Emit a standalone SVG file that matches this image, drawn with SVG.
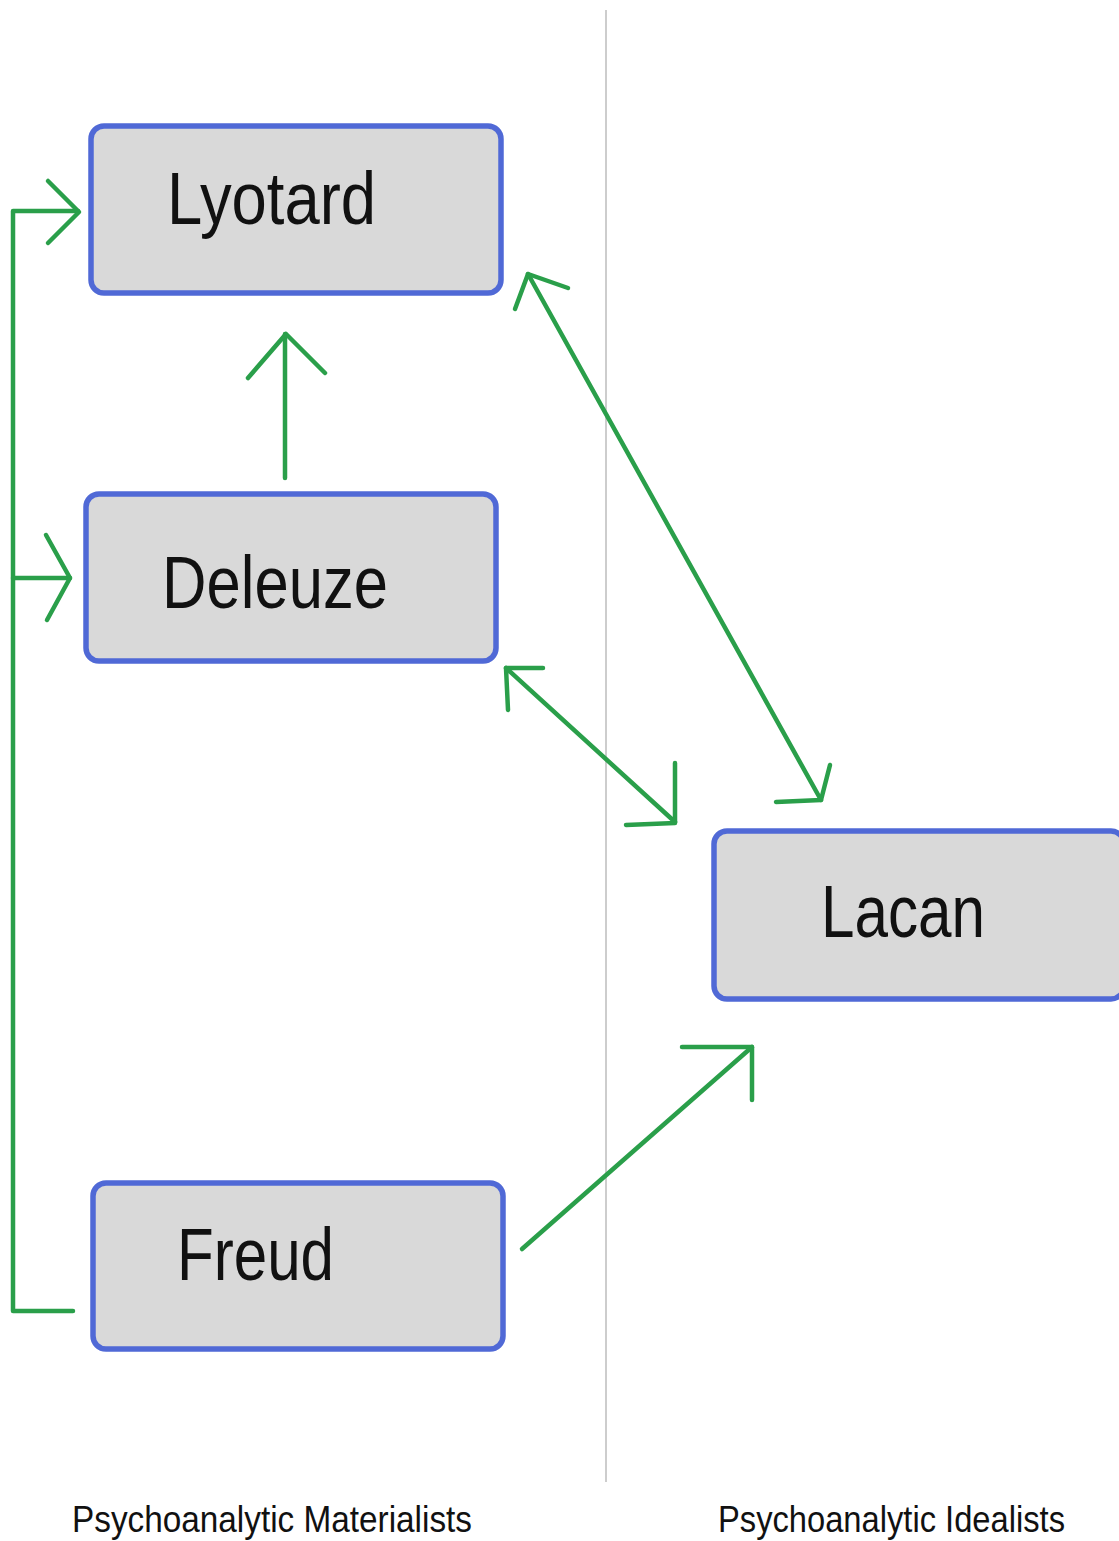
<svg xmlns="http://www.w3.org/2000/svg" width="1119" height="1541" viewBox="0 0 1119 1541">
<style>
.box{fill:#d9d9d9;stroke:#5069d6;stroke-width:5.5}
.lbl{font-family:"Liberation Sans",Arial,sans-serif;font-size:74px;fill:#111}
.cap{font-family:"Liberation Sans",Arial,sans-serif;font-size:36px;fill:#111}
.c{fill:none;stroke:#2a9f4a;stroke-width:4.5;stroke-linecap:round;stroke-linejoin:round}
</style>
<rect width="1119" height="1541" fill="#ffffff"/>
<line x1="606" y1="10" x2="606" y2="1482" stroke="#bdbdbd" stroke-width="1.5"/>
<g id="lyotard">
<rect class="box" x="91" y="126" width="410" height="167" rx="13"/>
<text class="lbl" x="167" y="224" textLength="209" lengthAdjust="spacingAndGlyphs">Lyotard</text>
</g>
<g id="deleuze">
<rect class="box" x="86" y="494" width="410" height="167" rx="13"/>
<text class="lbl" x="162" y="608" textLength="226" lengthAdjust="spacingAndGlyphs">Deleuze</text>
</g>
<g id="lacan">
<rect class="box" x="714" y="831" width="410" height="168" rx="13"/>
<text class="lbl" x="821" y="937" textLength="164" lengthAdjust="spacingAndGlyphs">Lacan</text>
</g>
<g id="freud">
<rect class="box" x="93" y="1183" width="410" height="166" rx="13"/>
<text class="lbl" x="177" y="1280" textLength="157" lengthAdjust="spacingAndGlyphs">Freud</text>
</g>
<g id="connectors">
<path class="c" d="M73,1311 H13 V211 H78"/>
<path class="c" d="M48,181 L79,212 L48,243"/>
<path class="c" d="M13,578 H70"/>
<path class="c" d="M46,535 L70,578 L47,620"/>
<path class="c" d="M285,478 V334"/>
<path class="c" d="M248,378 L286,334 L325,373"/>
<path class="c" d="M528,274 L821,800"/>
<path class="c" d="M515,309 L528,274 L568,288"/>
<path class="c" d="M830,765 L821,800 L776,802"/>
<path class="c" d="M506,668 L675,822"/>
<path class="c" d="M543,668 L506,668 L508,710"/>
<path class="c" d="M675,763 L675,823 L626,825"/>
<path class="c" d="M522,1249 L752,1047"/>
<path class="c" d="M682,1047 L752,1047 L752,1100"/>
</g>
<text class="cap" x="72" y="1532" textLength="400" lengthAdjust="spacingAndGlyphs">Psychoanalytic Materialists</text>
<text class="cap" x="718" y="1532" textLength="347" lengthAdjust="spacingAndGlyphs">Psychoanalytic Idealists</text>
</svg>
